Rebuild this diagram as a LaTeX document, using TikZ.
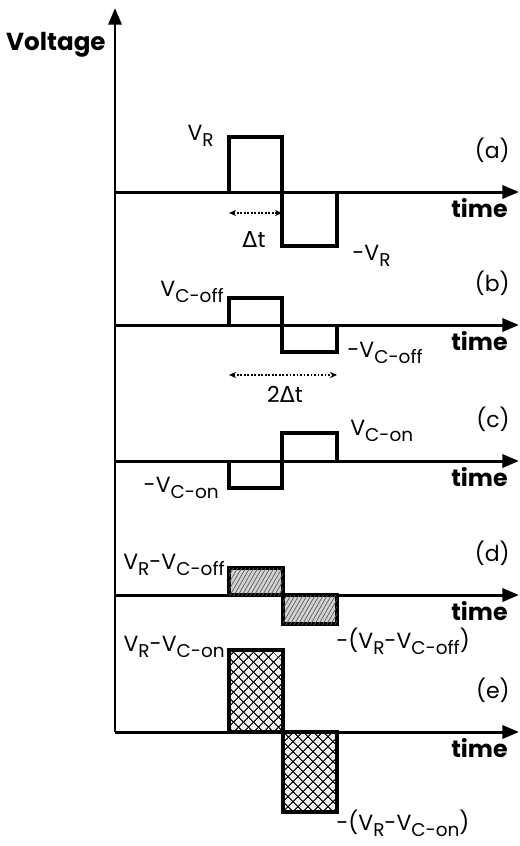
\documentclass[tikz,border=0pt]{standalone}
\usepackage{fontspec}
\setmainfont{Poppins}
\newfontfamily\grkfont{DejaVu Sans}
\usetikzlibrary{arrows.meta, patterns, patterns.meta}

% lowered index in text font, and the delta sign
\newcommand{\lowidx}[1]{\raisebox{-3.6pt}{\fontsize{10.5}{10.5}\selectfont #1}}
\newcommand{\dlt}{{\grkfont Δ}}

\tikzset{
  axisline/.style={line width=1.7pt, -{Triangle[length=9.5pt, width=7.5pt]}},
  pulse/.style={line width=2.3pt, line join=miter},
  hatchbox/.style={pulse, fill=gray!35, postaction={pattern={Lines[angle=60, distance=2pt, line width=0.4pt]}, pattern color=gray!70!black}},
  crossbox/.style={pulse, line width=2.8pt, fill=gray!12,
    postaction={pattern={Lines[angle=45, distance=4pt, line width=0.6pt]}},
    postaction={pattern={Lines[angle=-45, distance=4pt, line width=0.6pt]}}},
  timelbl/.style={font=\fontsize{13.5}{14}\selectfont\bfseries, anchor=base east, inner sep=0pt},
  caselbl/.style={font=\fontsize{12.5}{13}\selectfont, inner sep=0pt},
  vlbl/.style={font=\fontsize{12.5}{13}\selectfont, inner sep=0pt},
  spanarrow/.style={densely dotted, line width=1pt, {Stealth[length=4pt, width=3.5pt]}-{Stealth[length=4pt, width=3.5pt]}}
}

\begin{document}
\begin{tikzpicture}[x=0.02cm, y=-0.02cm]
  \useasboundingbox (0,0) rectangle (520,846);

  % Voltage axis
  \coordinate (org) at (115,732);
  \coordinate (vtop) at (115,8);
  \draw[axisline] (org) -- (vtop);
  \node[font=\fontsize{14}{14}\selectfont\bfseries, anchor=east, inner sep=0pt] (vname) at (106,45) {Voltage};

  % time axes with case labels
  \foreach \y/\n in {192/a, 325/b, 461/c, 595/d, 732/e} {
    \coordinate (t0\n) at (115,\y);
    \coordinate (t1\n) at (519,\y);
    \draw[axisline] (t0\n) -- (t1\n);
    \node[timelbl] (time\n) at (508,\y+25) {time};
    \node[caselbl, anchor=east] (case\n) at (510,\y-42) {(\n)};
  }

  % (a) applied pulse
  \draw[pulse] (229,192) -- (229,137) -- (282,137) -- (282,246) -- (337,246) -- (337,192);
  \node[vlbl, anchor=base east] (vr) at (214,140) {V\lowidx{R}};
  \node[vlbl, anchor=base west] (mvr) at (352,260) {-V\lowidx{R}};
  \coordinate (dta) at (229,213);
  \coordinate (dtb) at (282,213);
  \draw[spanarrow] (dta) -- (dtb);
  \node[vlbl] (dt) at (254,239) {\dlt t};

  % (b) cell response, off state
  \draw[pulse] (229,325) -- (229,298) -- (282,298) -- (282,352) -- (337,352) -- (337,325);
  \node[vlbl, anchor=base east] (vcoff) at (224,296) {V\lowidx{C-off}};
  \node[vlbl, anchor=base west] (mvcoff) at (347,357) {-V\lowidx{C-off}};
  \coordinate (tta) at (229,375);
  \coordinate (ttb) at (337,375);
  \draw[spanarrow] (tta) -- (ttb);
  \node[vlbl] (tdt) at (285,394) {2\dlt t};

  % (c) cell response, on state
  \draw[pulse] (229,461) -- (229,488) -- (282,488) -- (282,433) -- (337,433) -- (337,461);
  \node[vlbl, anchor=base east] (mvcon) at (219,492) {-V\lowidx{C-on}};
  \node[vlbl, anchor=base west] (vcon) at (350,435) {V\lowidx{C-on}};

  % (d) difference, off state
  \draw[hatchbox] (229,568) rectangle (283,595);
  \draw[hatchbox] (283,595) rectangle (337,624);
  \node[vlbl, anchor=base east] (doff) at (225,569) {V\lowidx{R}-V\lowidx{C-off}};
  \node[vlbl, anchor=base west] (mdoff) at (336,648) {-(V\lowidx{R}-V\lowidx{C-off})};

  % (e) difference, on state
  \draw[crossbox] (229,650) rectangle (283,732);
  \draw[crossbox] (283,732) rectangle (337,812);
  \node[vlbl, anchor=base east] (don) at (225,651) {V\lowidx{R}-V\lowidx{C-on}};
  \node[vlbl, anchor=base west] (mdon) at (336,830) {-(V\lowidx{R}-V\lowidx{C-on})};
\end{tikzpicture}
\end{document}
